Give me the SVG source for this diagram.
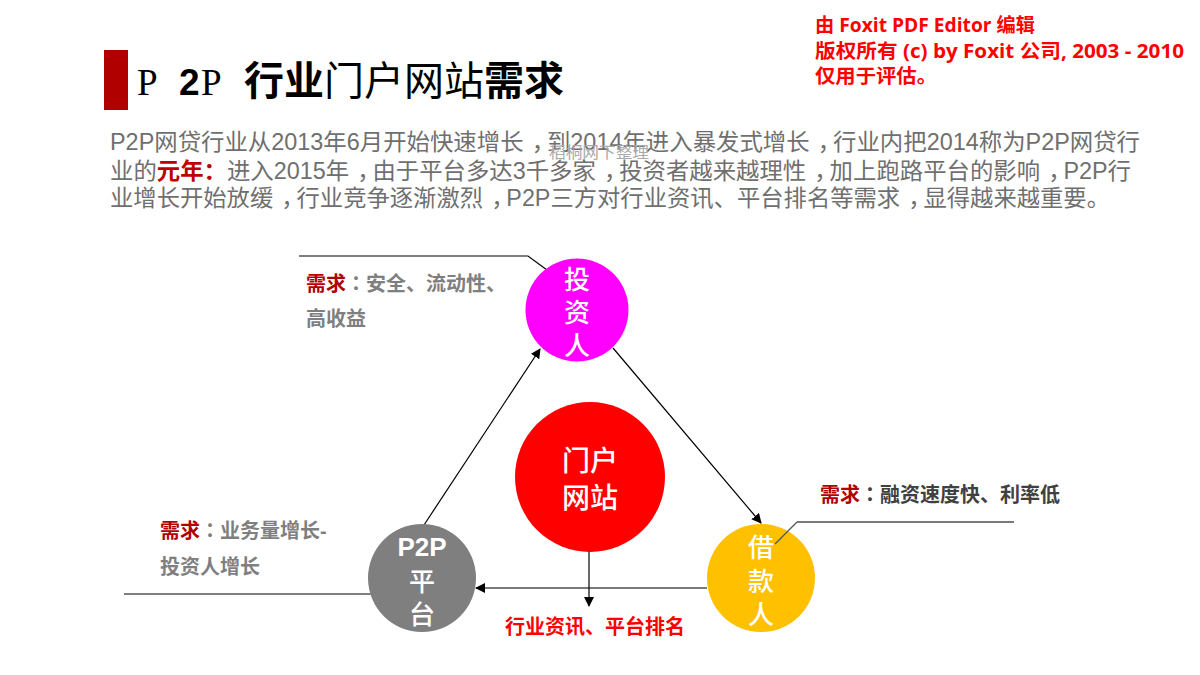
<svg xmlns="http://www.w3.org/2000/svg" width="1200" height="675" viewBox="0 0 1200 675">
<style>
text{font-family:"Liberation Sans","Noto Sans CJK SC",sans-serif}
.h{font-size:40px;fill:#000;font-family:"Noto Sans CJK SC",sans-serif}
.l{font-family:"Liberation Serif",serif;font-size:37px}
.t{font-family:"Liberation Sans",sans-serif;font-size:37px;font-weight:700}
.b{font-size:23px;fill:#6f6f6f}
.w{font-size:26px;fill:#fff;text-anchor:middle;font-weight:500}
.p{font-size:28px}
.n{font-size:20px;font-weight:700;fill:#7f7f7f}
.d{fill:#404040}
.r{fill:#b00000}
.o{font-family:"Noto Sans CJK TC",sans-serif}
.f{font-family:"Open Sans","Noto Sans CJK SC",sans-serif;font-size:19px;font-weight:700;fill:#f00}
.c{fill:none;stroke:#000;stroke-width:1.2}
.g{fill:none;stroke:#555;stroke-width:1.6}
.m{fill:none;stroke:#7a7a7a;stroke-width:2.200}
</style>
<defs>
<marker id="a" markerWidth="10" markerHeight="10" refX="9" refY="5" orient="auto" markerUnits="userSpaceOnUse"><path d="M0 0L10 5L0 10Z" fill="#000"/></marker>
</defs>
<rect width="1200" height="675" fill="#fff"/>
<rect id="title-bar" x="104" y="50" width="24" height="60" fill="#b00000"/>
<g id="title">
<text class="h" y="95"><tspan class="l" x="137">P</tspan><tspan class="t" x="179">2</tspan><tspan class="l" x="201">P</tspan><tspan x="244" font-weight="700">行业</tspan><tspan>门户网站</tspan><tspan font-weight="700">需求</tspan></text>
</g>
<g id="foxit">
<text class="f" x="815" y="32" textLength="220" lengthAdjust="spacingAndGlyphs">由 Foxit PDF Editor 编辑</text>
<text class="f" x="815" y="58" textLength="369" lengthAdjust="spacingAndGlyphs">版权所有 (c) by Foxit 公司, 2003 - 2010</text>
<text class="f" x="815" y="83" textLength="122" lengthAdjust="spacingAndGlyphs">仅用于评估。</text>
</g>
<g id="body">
<text class="b" x="110" y="150" textLength="1030" lengthAdjust="spacingAndGlyphs">P2P网贷行业从2013年6月开始快速增长<tspan dx="8">，</tspan><tspan dx="-8">到</tspan>2014年进入暴发式增长<tspan dx="8">，</tspan><tspan dx="-8">行</tspan>业内把2014称为P2P网贷行</text>
<text class="b" x="110" y="179" textLength="1021" lengthAdjust="spacingAndGlyphs">业的<tspan fill="#c00000" font-weight="700">元年：</tspan>进入2015年<tspan dx="8">，</tspan><tspan dx="-8">由</tspan>于平台多达3千多家<tspan dx="8">，</tspan><tspan dx="-8">投</tspan>资者越来越理性<tspan dx="8">，</tspan><tspan dx="-8">加</tspan>上跑路平台的影响<tspan dx="8">，</tspan><tspan dx="-8">P</tspan>2P行</text>
<text class="b" x="110" y="206" textLength="1000" lengthAdjust="spacingAndGlyphs">业增长开始放缓<tspan dx="8">，</tspan><tspan dx="-8">行</tspan>业竞争逐渐激烈<tspan dx="8">，</tspan><tspan dx="-8">P</tspan>2P三方对行业资讯、平台排名等需求<tspan dx="8">，</tspan><tspan dx="-8">显</tspan>得越来越重要。</text>
<text x="549" y="158" font-size="16" fill="#aaa" textLength="100" lengthAdjust="spacingAndGlyphs">稻桐网下整理</text>
</g>
<g id="connectors">
<path class="c" d="M299 256H528L547 270"/>
<path class="c" d="M424 525L540 349" marker-end="url(#a)"/>
<path class="c" d="M613 348L761 523" marker-end="url(#a)"/>
<path class="m" d="M707 588H476" marker-end="url(#a)"/>
<path class="c" d="M589 550V606" marker-end="url(#a)"/>
<path class="g" d="M124 594H373"/>
</g>
<g id="node-investor">
<circle cx="577" cy="310" r="51.500" fill="#f0f"/>
<text class="w" x="577" y="289">投</text><text class="w" x="577" y="322">资</text><text class="w" x="577" y="355">人</text>
</g>
<g id="node-portal">
<circle cx="590" cy="477" r="75" fill="#f00"/>
<text class="w p" x="590" y="471">门户</text>
<text class="w p" x="590" y="508">网站</text>
</g>
<g id="node-platform">
<circle cx="422" cy="578" r="54" fill="#7f7f7f"/>
<text class="w" x="422" y="556" style="font-weight:700">P2P</text><text class="w" x="422" y="591">平</text><text class="w" x="422" y="624">台</text>
</g>
<g id="node-borrower">
<circle cx="761" cy="578" r="54" fill="#ffc000"/>
<text class="w" x="761" y="557">借</text><text class="w" x="761" y="591">款</text><text class="w" x="761" y="624">人</text>
<path class="m" d="M1014 522H797"/>
<path d="M797 522L775 544" fill="none" stroke="#555" stroke-width="1.200"/>
</g>
<g id="labels">
<text class="n" x="306" y="291"><tspan class="r">需求</tspan><tspan class="o">：</tspan>安全、流动性、</text>
<text class="n" x="306" y="326">高收益</text>
<text class="n" x="160" y="538"><tspan class="r">需求</tspan><tspan class="o">：</tspan>业务量增长-</text>
<text class="n" x="160" y="574">投资人增长</text>
<text class="n d" x="820" y="502"><tspan class="r">需求</tspan><tspan class="o">：</tspan>融资速度快、利率低</text>
<text x="505" y="634" font-size="20" font-weight="700" fill="#f00">行业资讯、平台排名</text>
</g>
</svg>
